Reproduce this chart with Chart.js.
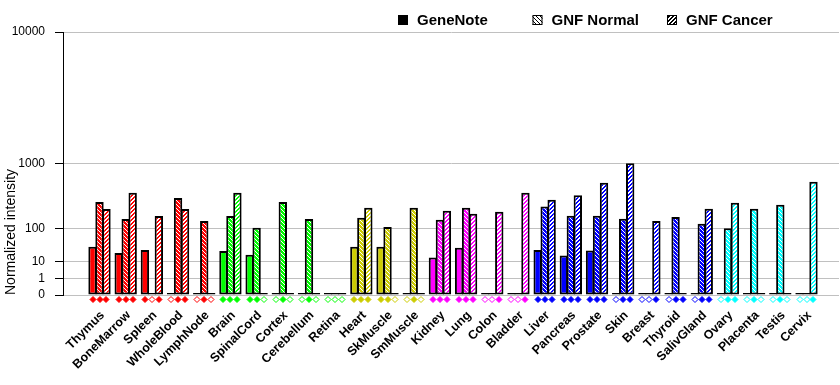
<!DOCTYPE html>
<html>
<head>
<meta charset="utf-8">
<script src="https://cdn.jsdelivr.net/npm/chart.js@4.4.1/dist/chart.umd.min.js"></script>
<style>
  html, body { margin: 0; padding: 0; background: #fff; }
  #wrap { width: 840px; height: 385px; }
</style>
</head>
<body>
<div id="wrap"><canvas id="geneChart"></canvas></div>
<script>
// tissues and normalized intensities
const tissues = ['Thymus', 'BoneMarrow', 'Spleen', 'WholeBlood', 'LymphNode', 'Brain', 'SpinalCord', 'Cortex',
    'Cerebellum', 'Retina', 'Heart', 'SkMuscle', 'SmMuscle', 'Kidney', 'Lung', 'Colon', 'Bladder', 'Liver',
    'Pancreas', 'Prostate', 'Skin', 'Breast', 'Thyroid', 'SalivGland', 'Ovary', 'Placenta', 'Testis', 'Cervix'];
const geneNote  = [35, 22, 28, 0, 0, 26, 19, 0, 0, 0, 35, 35, 0, 15, 33, 0, 0, 28, 18, 27, 0, 0, 0, 0, 0, 0, 0, 0];
const gnfNormal = [313, 160, 0, 360, 146, 182, 106, 313, 160, 0, 169, 110, 253, 155, 253, 0, 0, 264, 184, 184, 162, 0, 174, 129, 103, 244, 283, 0];
const gnfCancer = [241, 430, 182, 241, 0, 430, 0, 0, 0, 0, 253, 0, 0, 226, 200, 217, 430, 340, 394, 587, 1000, 146, 0, 244, 305, 0, 0, 604];
// present (1) / absent (0) calls shown as diamonds under the bars
const geneNoteCall = [1, 1, 1, 0, 0, 1, 1, 0, 0, 0, 1, 1, 0, 1, 1, 0, 0, 1, 1, 1, 0, 0, 0, 0, 0, 0, 0, 0];
const normalCall   = [1, 1, 0, 1, 1, 1, 1, 1, 1, 0, 1, 1, 1, 1, 1, 0, 0, 1, 1, 1, 1, 0, 1, 1, 1, 1, 1, 0];
const cancerCall   = [1, 1, 1, 1, 0, 1, 0, 0, 0, 0, 1, 0, 0, 1, 1, 1, 1, 1, 1, 1, 1, 1, 1, 1, 1, 0, 0, 1];
const yTicks = [0, 1, 10, 100, 1000, 10000];

const FONT = '"Liberation Sans", Arial, sans-serif';
const EXP = 0.3;

// colour of each tissue group
const tissueColors = tissues.map((t, i) =>
    i < 5 ? '#ff0000' : i < 10 ? '#00ff00' : i < 13 ? '#cccc00' : i < 17 ? '#ff00ff' : i < 24 ? '#0000ff' : '#00ffff');

// axis that spaces values by v^0.3
class PowerScale extends Chart.LinearScale {
    static id = 'power';
    buildTicks() {
        return yTicks.map(v => ({ value: v }));
    }
    configure() {
        super.configure();
        this._pStart = Math.pow(Math.max(this.min, 0), EXP);
        this._pRange = Math.pow(this.max, EXP) - this._pStart;
    }
    getPixelForValue(value) {
        if (value === null || isNaN(value)) return NaN;
        return this.getPixelForDecimal((Math.pow(Math.max(value, 0), EXP) - this._pStart) / this._pRange);
    }
    getValueForPixel(pixel) {
        return Math.pow(this.getDecimalForPixel(pixel) * this._pRange + this._pStart, 1 / EXP);
    }
}
Chart.register(PowerScale);

function hatch(bg, fg, kind) {
    const c = document.createElement('canvas');
    c.width = c.height = 4;
    const g = c.getContext('2d');
    g.fillStyle = bg;
    g.fillRect(0, 0, 4, 4);
    g.fillStyle = fg;
    for (let y = 0; y < 4; y++) {
        for (let x = 0; x < 4; x++) {
            const on = kind === 'back' ? (x - y + 4) % 4 === 0 : (x + y) % 4 < 2;
            if (on) g.fillRect(x, y, 1, 1);
        }
    }
    return g.createPattern(c, 'repeat');
}

function points(values) {
    return values.map((v, i) => ({ x: i, y: v }));
}

const barStyle = {
    borderColor: '#000',
    borderWidth: 2,
    borderSkipped: false,
    minBarLength: 2,
    categoryPercentage: 0.8,
    barPercentage: 1.2
};

const datasets = [
    Object.assign({
        label: 'GeneNote',
        data: points(geneNote),
        backgroundColor: tissueColors,
        calls: geneNoteCall,
        legendFill: '#000'
    }, barStyle),
    Object.assign({
        label: 'GNF Normal',
        data: points(gnfNormal),
        backgroundColor: tissueColors.map(c => hatch(c, '#fff', 'back')),
        calls: normalCall,
        legendFill: hatch('#fff', '#000', 'back')
    }, barStyle),
    Object.assign({
        label: 'GNF Cancer',
        data: points(gnfCancer),
        backgroundColor: tissueColors.map(c => hatch(c, '#fff', 'fwd')),
        calls: cancerCall,
        legendFill: hatch('#fff', '#000', 'fwd')
    }, barStyle)
];

// diamonds under each bar: filled = present, hollow = absent
const callMarks = {
    id: 'callMarks',
    afterDatasetsDraw(chart) {
        const ctx = chart.ctx;
        const y = chart.chartArea.bottom + 4.5;
        ctx.save();
        chart.data.datasets.forEach((ds, di) => {
            chart.getDatasetMeta(di).data.forEach((bar, i) => {
                const x = Math.round(bar.x);
                ctx.beginPath();
                ctx.moveTo(x, y - 3);
                ctx.lineTo(x + 3, y);
                ctx.lineTo(x, y + 3);
                ctx.lineTo(x - 3, y);
                ctx.closePath();
                ctx.fillStyle = ds.calls[i] ? tissueColors[i] : '#fff';
                ctx.fill();
                ctx.strokeStyle = tissueColors[i];
                ctx.lineWidth = 1;
                ctx.stroke();
            });
        });
        ctx.restore();
    }
};

const topLegend = {
    id: 'topLegend',
    afterDraw(chart) {
        const ctx = chart.ctx;
        ctx.save();
        ctx.font = 'bold 15px ' + FONT;
        ctx.textBaseline = 'middle';
        ctx.textAlign = 'left';
        chart.data.datasets.forEach((ds, i) => {
            const x = 398 + i * 134.5;
            const y = 20;
            ctx.fillStyle = ds.legendFill;
            ctx.fillRect(x, y - 5, 10, 10);
            ctx.strokeStyle = '#000';
            ctx.lineWidth = 1;
            ctx.strokeRect(x + 0.5, y - 4.5, 9, 9);
            ctx.fillStyle = '#000';
            ctx.fillText(ds.label, x + 19, y + 1);
        });
        ctx.restore();
    }
};

new Chart(document.getElementById('geneChart').getContext('2d'), {
    type: 'bar',
    data: { datasets: datasets },
    plugins: [callMarks, topLegend],
    options: {
        responsive: true,
        maintainAspectRatio: false,
        animation: false,
        layout: { padding: { top: 32, right: 1, left: 0, bottom: 0 } },
        plugins: {
            legend: { display: false },
            tooltip: { enabled: false }
        },
        scales: {
            x: {
                type: 'linear',
                min: -1.394,
                max: 28.241,
                offset: false,
                afterBuildTicks: s => { s.ticks = tissues.map((t, i) => ({ value: i })); },
                afterFit: s => { s.height = 90; },
                grid: { display: false, drawTicks: false },
                border: { display: false },
                ticks: {
                    autoSkip: false,
                    minRotation: 45,
                    maxRotation: 45,
                    padding: 13,
                    labelOffset: 3,
                    color: '#000',
                    font: { family: FONT, size: 12.5, weight: 'bold' },
                    callback: v => tissues[v]
                }
            },
            y: {
                type: 'power',
                min: 0,
                max: 10000,
                afterFit: s => { s.width = 63; },
                grid: { color: '#c0c0c0', tickColor: '#000', tickLength: 8 },
                border: { color: '#000', width: 1 },
                ticks: {
                    padding: 10,
                    color: '#000',
                    font: { family: FONT, size: 12 },
                    callback: v => String(v)
                },
                title: {
                    display: true,
                    text: 'Normalized intensity',
                    align: 'start',
                    color: '#000',
                    font: { family: FONT, size: 14 },
                    padding: { top: 3, bottom: 0 }
                }
            }
        }
    }
});
</script>
</body>
</html>
